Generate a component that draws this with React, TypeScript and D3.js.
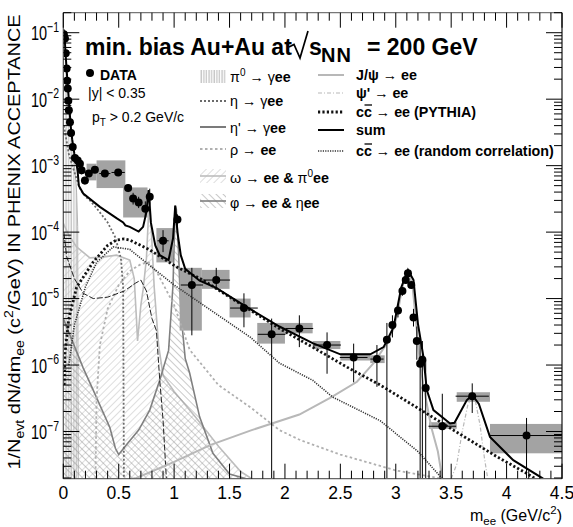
import React from 'react';
import * as d3 from 'd3';

type P = [number, number];

// ---------- axis set-up ----------
const X_DOMAIN: P = [0, 4.5];
const Y_DOMAIN: P = [1.95e-8, 0.2];
const xTickLabels = ['0', '0.5', '1', '1.5', '2', '2.5', '3', '3.5', '4', '4.5'];
const yDecades = [-7, -6, -5, -4, -3, -2, -1];

// ---------- cocktail components (m [GeV/c^2], dN/dm) ----------
const pi0Curve: P[] = [
  [0.0, 0.1], [0.01, 0.09], [0.02, 0.048], [0.03, 0.027], [0.04, 0.015], [0.05, 0.0095],
  [0.06, 0.0052], [0.07, 0.0032], [0.08, 0.0022], [0.09, 0.0015], [0.1, 0.001], [0.11, 7e-4],
  [0.12, 4e-4], [0.13, 1.2e-4], [0.135, 1e-9],
];
const etaCurve: P[] = [
  [0.005, 4e-3], [0.05, 1.5e-3], [0.1, 8e-4], [0.15, 4.5e-4], [0.2, 3.4e-4], [0.24, 3e-4],
  [0.3, 2.3e-4], [0.4, 1.4e-4], [0.47, 8.3e-5], [0.52, 4e-5], [0.54, 1.5e-5], [0.547, 1e-9],
];
const etaPrimeCurve: P[] = [
  [0.005, 1e-4], [0.03, 4.3e-5], [0.1, 2e-5], [0.18, 1.2e-5], [0.27, 1e-5], [0.4, 1.05e-5],
  [0.55, 1.3e-5], [0.65, 1.7e-5], [0.7, 1.9e-5], [0.75, 1.3e-5], [0.8, 5e-6], [0.84, 3.3e-6],
  [0.87, 6e-7], [0.9, 1.5e-7], [0.93, 1e-9],
];
const rhoCurve: P[] = [
  [0.29, 1e-9], [0.3, 3e-7], [0.33, 2e-6], [0.4, 7e-6], [0.5, 1.6e-5], [0.6, 2.6e-5],
  [0.7, 3.3e-5], [0.77, 3.5e-5], [0.85, 2.4e-5], [1.0, 8e-6], [1.14, 1.7e-6], [1.4, 5e-7],
  [1.69, 2.3e-7], [1.95, 1.05e-7], [2.14, 7.4e-8], [2.5, 4.5e-8], [3.0, 2.6e-8], [3.42, 1.9e-8],
];
const omegaCurve: P[] = [
  [0.0, 1.35e-4], [0.05, 9e-5], [0.12, 6e-5], [0.24, 4.1e-5], [0.35, 4.2e-5], [0.48, 4.5e-5],
  [0.6, 3.8e-5], [0.64, 2e-5], [0.66, 5e-6], [0.67, 2.3e-6], [0.7, 8e-6], [0.72, 1.35e-5],
  [0.75, 4e-5], [0.77, 2e-4], [0.78, 3.5e-4], [0.79, 1.5e-4], [0.82, 1.5e-5], [0.86, 2e-6],
  [0.9, 7e-7], [1.0, 4e-7], [1.2, 1.6e-7], [1.4, 6e-8], [1.6, 2.5e-8], [1.7, 1.9e-8],
];
const phiCurve: P[] = [
  [0.0, 5e-6], [0.18, 9e-7], [0.27, 4.2e-7], [0.42, 1.15e-7], [0.47, 5.6e-8], [0.5, 4.5e-8],
  [0.57, 6.3e-8], [0.68, 1.05e-7], [0.78, 2.1e-7], [0.87, 5.9e-7], [0.95, 1.66e-6],
  [0.99, 1.6e-5], [1.01, 2.5e-4], [1.02, 2.2e-4], [1.04, 5e-5], [1.06, 6.3e-6], [1.1, 1.26e-6],
  [1.14, 7.6e-7], [1.23, 1.66e-7], [1.35, 4.7e-8], [1.5, 2.3e-8], [1.65, 1.9e-8],
];
const jpsiCurve: P[] = [
  [0.62, 1.9e-8], [0.66, 2e-8], [1.0, 3.5e-8], [1.33, 6.3e-8], [1.7, 1.05e-7], [2.13, 1.8e-7],
  [2.42, 3.3e-7], [2.65, 5.6e-7], [2.8, 1.07e-6], [2.92, 2.1e-6], [2.98, 3.5e-6], [3.02, 6.3e-6],
  [3.05, 1.26e-5], [3.08, 2e-5], [3.1, 2.4e-5], [3.12, 2.3e-5], [3.15, 1.6e-5], [3.18, 5e-6],
  [3.22, 1e-6], [3.27, 3.2e-7], [3.32, 1.17e-7], [3.38, 5e-8], [3.42, 1.9e-8],
];
const psiPrimeCurve: P[] = [
  [3.5, 1.9e-8], [3.55, 3.2e-8], [3.6, 1e-7], [3.65, 2.5e-7], [3.69, 3.3e-7], [3.72, 2.8e-7],
  [3.76, 1.26e-7], [3.8, 4e-8], [3.83, 1.9e-8],
];
const ccPythiaCurve: P[] = [
  [0.008, 5e-7], [0.015, 1.5e-6], [0.05, 5e-6], [0.12, 1.48e-5], [0.27, 3.55e-5], [0.4, 6.3e-5],
  [0.48, 7.6e-5], [0.55, 7.9e-5], [0.6, 7.6e-5], [0.78, 5.4e-5], [1.02, 3e-5], [1.26, 1.9e-5],
  [1.57, 8.9e-6], [1.95, 3.55e-6], [2.25, 1.86e-6], [2.56, 9.3e-7], [2.86, 5e-7], [3.28, 1.86e-7],
  [3.52, 1.05e-7], [3.91, 4.2e-8], [4.18, 2.35e-8], [4.26, 1.9e-8],
];
const ccRandomCurve: P[] = [
  [0.05, 1e-6], [0.1, 4e-6], [0.2, 1.5e-5], [0.3, 3.5e-5], [0.45, 6e-5], [0.6, 5.5e-5],
  [1.0, 1.6e-5], [1.69, 2.6e-6], [1.95, 1.07e-6], [2.25, 5.9e-7], [2.43, 3.3e-7],
  [2.86, 1.45e-7], [3.2, 5e-8], [3.42, 1.9e-8],
];
const sumCurve: P[] = [
  [0.0, 0.112], [0.01, 0.1], [0.02, 0.05], [0.03, 0.028], [0.04, 0.016], [0.05, 0.01],
  [0.06, 0.0056], [0.07, 0.0035], [0.08, 0.0025], [0.1, 0.0015], [0.12, 0.00105], [0.13, 0.0008],
  [0.14, 0.0005], [0.18, 0.00038], [0.33, 0.00024], [0.48, 0.000162], [0.54, 0.00014],
  [0.56, 0.000126], [0.6, 0.00012], [0.68, 0.000102], [0.72, 0.00012], [0.75, 0.0002],
  [0.77, 0.00043], [0.79, 0.00014], [0.83, 6.3e-5], [0.87, 4.5e-5], [0.95, 3.8e-5], [0.99, 8e-5],
  [1.01, 0.00025], [1.03, 0.0001], [1.06, 4.5e-5], [1.1, 2.8e-5], [1.23, 1.86e-5], [1.38, 1.45e-5],
  [1.62, 8.1e-6], [1.95, 3.8e-6], [2.25, 2.14e-6], [2.5, 1.45e-6], [2.77, 1.45e-6], [2.89, 1.86e-6],
  [2.98, 3.7e-6], [3.05, 1.48e-5], [3.11, 2.7e-5], [3.16, 1.9e-5], [3.2, 4.2e-6], [3.25, 1.32e-6],
  [3.28, 4.2e-7], [3.34, 2.1e-7], [3.49, 1.32e-7], [3.53, 1.35e-7], [3.64, 2.95e-7], [3.69, 3.55e-7],
  [3.75, 2.6e-7], [3.85, 8.3e-8], [4.06, 3.7e-8], [4.33, 1.9e-8],
];

// ---------- data: mass, value, stat low, stat high, half bin width ----------
const dataMass = [
  0.005, 0.015, 0.022, 0.03, 0.034, 0.04, 0.045, 0.05, 0.06, 0.07, 0.085, 0.105, 0.13, 0.15, 0.165,
  0.195, 0.23, 0.285, 0.375, 0.495, 0.585, 0.63, 0.68, 0.74, 0.78, 0.9, 1.03, 1.16, 1.38, 1.63,
  1.88, 2.13, 2.38, 2.62, 2.83, 2.92, 2.97, 3.02, 3.06, 3.09, 3.11, 3.14, 3.16, 3.19, 3.22, 3.24,
  3.27, 3.42, 3.69, 4.18,
];
const dataValue = [
  0.095, 0.082, 0.049, 0.029, 0.019, 0.0145, 0.0095, 0.0068, 0.0045, 0.0031, 0.0019, 0.0013, 0.0012,
  0.00107, 0.00085, 0.0006, 0.00076, 0.00087, 0.00076, 0.00079, 0.00046, 0.00032, 0.00028, 0.000224,
  0.00034, 7.4e-5, 1.55e-4, 1.6e-5, 1.9e-5, 7.2e-6, 2.9e-6, 3.55e-6, 2.0e-6, 1.3e-6, 1.23e-6, 2.4e-6,
  4e-6, 6.6e-6, 1.3e-5, 1.9e-5, 2.4e-5, 1.6e-5, 5.2e-6, 2.3e-6, 1.05e-6, 1.2e-6, 4.5e-7, 1.2e-7,
  3.4e-7, 8.7e-8,
];
const dataStatLow = [
  0.09, 0.078, 0.046, 0.027, 0.018, 0.0137, 0.009, 0.0064, 0.0042, 0.0029, 0.0017, 0.00115, 0.00105,
  0.00093, 0.00074, 0.00052, 0.00068, 0.00079, 0.00068, 0.0007, 0.0004, 0.00026, 0.00023, 0.00017,
  0.00026, 5e-5, 1.25e-4, 2.8e-6, 1.35e-5, 3.7e-6, 1e-9, 1.86e-6, 7.4e-7, 5.5e-7, 4.7e-7, 1e-9,
  2.6e-6, 5.2e-6, 1.1e-5, 1.7e-5, 2.2e-5, 1.4e-5, 3.8e-6, 1.2e-6, 1e-9, 1e-9, 1e-9, 1e-9,
  1.9e-7, 1e-9,
];
const dataStatHigh = [
  0.1, 0.086, 0.052, 0.031, 0.02, 0.0153, 0.01, 0.0072, 0.0048, 0.0033, 0.0021, 0.00145, 0.00135,
  0.00121, 0.00096, 0.00068, 0.00084, 0.00095, 0.00084, 0.00088, 0.00052, 0.00039, 0.00034, 0.00029,
  0.00045, 1.07e-4, 1.85e-4, 2.9e-5, 2.9e-5, 1.2e-5, 5e-6, 5.6e-6, 3.1e-6, 2.1e-6, 2e-6, 4.3e-6,
  5.6e-6, 8.3e-6, 1.5e-5, 2.1e-5, 2.6e-5, 1.8e-5, 7e-6, 3.8e-6, 2.2e-6, 2.3e-6, 1.2e-6, 3.7e-7,
  5.3e-7, 1.6e-7,
];
const dataHalfWidth = [
  0, 0, 0, 0, 0, 0, 0, 0, 0, 0, 0, 0, 0, 0, 0,
  0.015, 0.025, 0.03, 0.05, 0.06, 0.02, 0.02, 0.02, 0.02, 0.01, 0.05, 0.02, 0.1, 0.125, 0.125,
  0.125, 0.125, 0.125, 0.125, 0.06, 0, 0, 0, 0, 0, 0, 0, 0, 0, 0, 0,
  0, 0.125, 0.15, 0.33,
];
// systematic boxes: m from, m to, value low, value high
const sysBoxes: [number, number, number, number][] = [
  [0.21, 0.3, 6e-4, 1.07e-3], [0.3, 0.56, 4.6e-4, 1.2e-3], [0.54, 0.76, 1.66e-4, 4.7e-4],
  [0.84, 0.99, 3.5e-5, 1.15e-4], [1.05, 1.25, 3.3e-6, 2.9e-5], [1.25, 1.5, 1.4e-5, 2.7e-5],
  [1.5, 1.69, 5.2e-6, 1e-5], [1.75, 2.0, 2.1e-6, 4.3e-6], [2.0, 2.25, 3e-6, 4.3e-6],
  [2.25, 2.5, 1.74e-6, 2.3e-6], [2.5, 2.77, 1.17e-6, 1.5e-6], [2.77, 2.9, 1.07e-6, 1.4e-6],
  [3.3, 3.55, 1.1e-7, 1.38e-7], [3.55, 3.85, 2.8e-7, 3.9e-7], [3.85, 4.5, 4.7e-8, 1.3e-7],
];

const FONT = '"Liberation Sans", Arial, Helvetica, sans-serif';
const L = 63.3, R = 562, T = 12.7, B = 478.7;

export default function App() {
  const x = d3.scaleLinear().domain(X_DOMAIN).range([L, R]);
  const y = d3.scaleLog().domain(Y_DOMAIN).range([B, T]).clamp(true);
  const line = d3.line<P>().x(d => x(d[0])).y(d => y(d[1]));
  const area = d3.area<P>().x(d => x(d[0])).y0(B).y1(d => y(d[1]));

  const xMinor = d3.range(0, 4.5001, 0.1);
  const yMinor: number[] = [];
  for (let e = -8; e <= -1; e++) for (let k = 1; k <= 9; k++) {
    const v = k * Math.pow(10, e);
    if (v >= Y_DOMAIN[0] && v <= Y_DOMAIN[1]) yMinor.push(v);
  }

  const legendLine = (x1: number, yy: number, stroke: string, w: number, dash?: string) => (
    <line x1={x1} x2={x1 + 26} y1={yy} y2={yy} stroke={stroke} strokeWidth={w} strokeDasharray={dash} />
  );

  return (
    <svg width={573} height={527} style={{ position: 'absolute', left: 0, top: 0, background: '#fff' }} fontFamily={FONT}>
      <defs>
        <pattern id="hatchV" width="2.6" height="4" patternUnits="userSpaceOnUse">
          <line x1="1" y1="0" x2="1" y2="4" stroke="#b4b4b4" strokeWidth="1" />
        </pattern>
        <pattern id="hatchOmega" width="5" height="5" patternUnits="userSpaceOnUse" patternTransform="rotate(45)">
          <line x1="0" y1="0" x2="0" y2="5" stroke="#bdbdbd" strokeWidth="1" />
        </pattern>
        <pattern id="hatchPhi" width="5" height="5" patternUnits="userSpaceOnUse" patternTransform="rotate(-45)">
          <line x1="0" y1="0" x2="0" y2="5" stroke="#8a8a8a" strokeWidth="0.9" />
        </pattern>
        <clipPath id="plotClip"><rect x={L} y={T} width={R - L} height={B - T} /></clipPath>
      </defs>
      <rect x={0} y={0} width={573} height={527} fill="#fff" />

      <g clipPath="url(#plotClip)">
        <path d={area(pi0Curve) || ''} fill="url(#hatchV)" stroke="#b4b4b4" strokeWidth={1} />
        <path d={area(omegaCurve) || ''} fill="url(#hatchOmega)" />
        <path d={line(omegaCurve) || ''} fill="none" stroke="#bdbdbd" strokeWidth={1.6} />
        <path d={area(phiCurve) || ''} fill="url(#hatchPhi)" />
        <path d={line(phiCurve) || ''} fill="none" stroke="#808080" strokeWidth={1.6} />

        {sysBoxes.map((b, i) => (
          <rect key={'s' + i} x={x(b[0])} width={x(b[1]) - x(b[0])} y={y(b[3])} height={y(b[2]) - y(b[3])} fill="#a3a3a3" />
        ))}

        <path d={line(rhoCurve) || ''} fill="none" stroke="#b0b0b0" strokeWidth={1.8} strokeDasharray="2.5,2.5" />
        <path d={line(etaCurve) || ''} fill="none" stroke="#6a6a6a" strokeWidth={1.8} strokeDasharray="2,2" />
        <path d={line(etaPrimeCurve) || ''} fill="none" stroke="#222" strokeWidth={1} strokeDasharray="6,2" />
        <path d={line(jpsiCurve) || ''} fill="none" stroke="#b8b8b8" strokeWidth={2} />
        <path d={line(psiPrimeCurve) || ''} fill="none" stroke="#b8b8b8" strokeWidth={1.2} strokeDasharray="4,2,1,2" />
        <path d={line(ccRandomCurve) || ''} fill="none" stroke="#333" strokeWidth={1.6} strokeDasharray="1.2,1.2" />
        <path d={line(ccPythiaCurve) || ''} fill="none" stroke="#111" strokeWidth={2.8} strokeDasharray="2.2,2.2" />
        <path d={line(sumCurve) || ''} fill="none" stroke="#000" strokeWidth={2} />

        {dataMass.map((m, i) => {
          const cx = x(m), cy = y(dataValue[i]);
          const hw = dataHalfWidth[i];
          return (
            <g key={'d' + i}>
              <line x1={cx} x2={cx} y1={y(dataStatLow[i])} y2={y(dataStatHigh[i])} stroke="#000" strokeWidth={1} />
              {hw > 0 && <line x1={x(m - hw)} x2={x(m + hw)} y1={cy} y2={cy} stroke="#000" strokeWidth={1} />}
              <circle cx={cx} cy={cy} r={4} fill="#000" />
            </g>
          );
        })}
      </g>

      {/* frame */}
      <line x1={L} x2={R} y1={T} y2={T} stroke="#777" strokeWidth={1.2} />
      <line x1={L} x2={R} y1={B} y2={B} stroke="#666" strokeWidth={1.2} />
      <line x1={L} x2={L} y1={T} y2={B} stroke="#555" strokeWidth={1.2} />
      <line x1={R} x2={R} y1={T} y2={B} stroke="#111" strokeWidth={1.2} />

      {xMinor.map((v, i) => {
        const major = i % 5 === 0;
        const len = major ? 15 : 8;
        return (
          <g key={'xt' + i}>
            <line x1={x(v)} x2={x(v)} y1={B} y2={B - len} stroke="#000" strokeWidth={1} />
            <line x1={x(v)} x2={x(v)} y1={T} y2={T + len} stroke="#000" strokeWidth={1} />
          </g>
        );
      })}
      {yMinor.map((v, i) => {
        const major = Math.abs(Math.log10(v) - Math.round(Math.log10(v))) < 1e-6;
        const len = major ? 16 : 8;
        return (
          <g key={'yt' + i}>
            <line x1={L} x2={L + len} y1={y(v)} y2={y(v)} stroke="#000" strokeWidth={1} />
            <line x1={R} x2={R - len} y1={y(v)} y2={y(v)} stroke="#000" strokeWidth={1} />
          </g>
        );
      })}

      {xTickLabels.map((t, i) => (
        <text key={'xl' + i} x={x(+t)} y={499} fontSize={17.5} textAnchor="middle">{t}</text>
      ))}
      {yDecades.map(e => (
        <g key={'yl' + e} transform={`translate(59,${y(Math.pow(10, e))}) scale(1,1.45)`}>
          <text x={0} y={5.3} fontSize={14.5} textAnchor="end">
            10<tspan fontSize={10.5} dy={-6}>{'\u2212' + Math.abs(e)}</tspan>
          </text>
        </g>
      ))}

      <text x={562} y={521} fontSize={16} textAnchor="end">
        m<tspan fontSize={11.5} dy={4}>ee</tspan><tspan dy={-4}> (GeV/c</tspan><tspan fontSize={11.5} dy={-7}>2</tspan><tspan dy={7}>)</tspan>
      </text>
      <g transform="translate(20,242) rotate(-90) scale(1.17,1)">
        <text x={0} y={0} fontSize={17} textAnchor="middle">
          1/N<tspan fontSize={12} dy={4}>evt</tspan><tspan dy={-4}> dN/dm</tspan><tspan fontSize={12} dy={4}>ee</tspan>
          <tspan dy={-4}> (c</tspan><tspan fontSize={12} dy={-7}>2</tspan><tspan dy={7}>/GeV) IN PHENIX ACCEPTANCE</tspan>
        </text>
      </g>

      {/* title */}
      <text x={85} y={55} fontSize={23} fontWeight="bold">min. bias Au+Au at</text>
      <path d="M289,47 L294,44.5 L300,58 L308,31" fill="none" stroke="#000" strokeWidth={1.7} />
      <text x={309} y={55} fontSize={23} fontWeight="bold">s</text>
      <text x={321} y={62} fontSize={20} fontWeight="bold" letterSpacing={1}>NN</text>
      <text x={367} y={55} fontSize={23} fontWeight="bold">= 200 GeV</text>

      {/* legend column 1 */}
      <circle cx={90} cy={73} r={4} fill="#000" />
      <text x={100} y={80} fontSize={14} fontWeight="bold">DATA</text>
      <text x={88} y={98} fontSize={14}>|y| &lt; 0.35</text>
      <text x={92} y={122} fontSize={14}>p<tspan fontSize={10} dy={4}>T</tspan><tspan dy={-4}> &gt; 0.2 GeV/c</tspan></text>

      {/* legend column 2 */}
      <rect x={200} y={70} width={26} height={13} fill="url(#hatchV)" />
      <text x={230} y={82} fontSize={14.3}>π<tspan fontSize={10} dy={-6}>0</tspan><tspan dy={6}> → γ</tspan><tspan fontWeight="bold">ee</tspan></text>
      {legendLine(200, 101, '#6a6a6a', 1.8, '2,2')}
      <text x={230} y={106} fontSize={14.3}>η → γ<tspan fontWeight="bold">ee</tspan></text>
      {legendLine(200, 127, '#222', 1.2)}
      <text x={230} y={133} fontSize={14.3}>η' → γ<tspan fontWeight="bold">ee</tspan></text>
      {legendLine(200, 149, '#b0b0b0', 1.8, '2.5,2.5')}
      <text x={230} y={155} fontSize={14.3}>ρ → <tspan fontWeight="bold">ee</tspan></text>
      <rect x={200} y={169} width={26} height={14} fill="url(#hatchOmega)" />
      {legendLine(200, 176, '#bdbdbd', 1.6)}
      <text x={230} y={183} fontSize={14.3}>ω → <tspan fontWeight="bold">ee &amp; </tspan>π<tspan fontSize={10} dy={-6}>0</tspan><tspan dy={6} fontWeight="bold">ee</tspan></text>
      <rect x={200} y={194} width={26} height={14} fill="url(#hatchPhi)" />
      {legendLine(200, 201, '#808080', 1.6)}
      <text x={230} y={208} fontSize={14.3}>φ → <tspan fontWeight="bold">ee &amp; </tspan>η<tspan fontWeight="bold">ee</tspan></text>

      {/* legend column 3 */}
      {legendLine(318, 75, '#b8b8b8', 2)}
      <text x={356} y={80} fontSize={14.3} fontWeight="bold">J/ψ → ee</text>
      {legendLine(318, 93, '#b8b8b8', 1.2, '4,2,1,2')}
      <text x={356} y={98} fontSize={14.3} fontWeight="bold">ψ' → ee</text>
      {legendLine(318, 112, '#111', 2.8, '2.2,2.2')}
      <text x={356} y={117} fontSize={14.3} fontWeight="bold">cc → ee (PYTHIA)</text>
      <line x1={364.5} x2={372} y1={105} y2={105} stroke="#000" strokeWidth={1.3} />
      {legendLine(318, 130, '#000', 2)}
      <text x={356} y={135} fontSize={14.3} fontWeight="bold">sum</text>
      {legendLine(318, 151, '#333', 1.6, '1.2,1.2')}
      <text x={356} y={156} fontSize={14.3} fontWeight="bold">cc → ee (random correlation)</text>
      <line x1={364.5} x2={372} y1={144} y2={144} stroke="#000" strokeWidth={1.3} />
    </svg>
  );
}
